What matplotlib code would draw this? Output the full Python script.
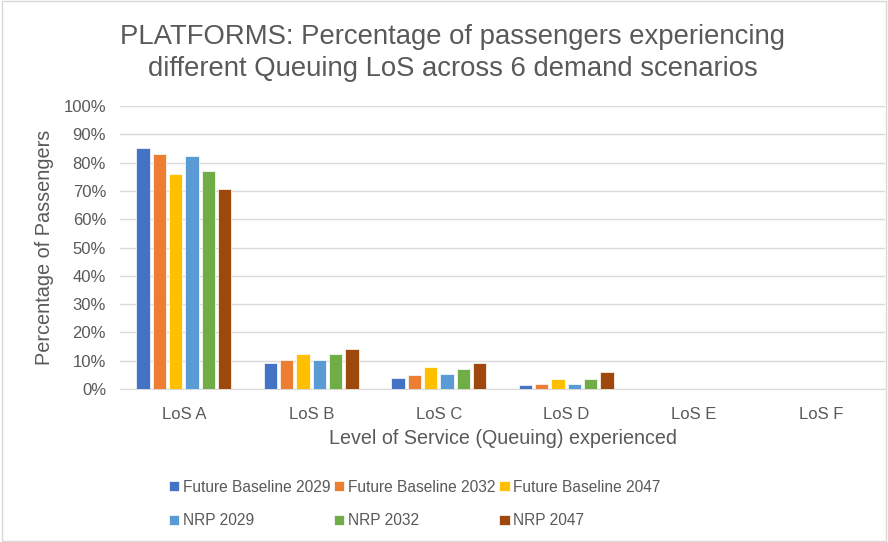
import numpy as np
import matplotlib.pyplot as plt
from matplotlib.ticker import PercentFormatter

plt.rcParams['font.family'] = ['Liberation Sans', 'DejaVu Sans']

categories = ['LoS A', 'LoS B', 'LoS C', 'LoS D', 'LoS E', 'LoS F']
series_names = ['Future Baseline 2029', 'Future Baseline 2032', 'Future Baseline 2047',
                'NRP 2029', 'NRP 2032', 'NRP 2047']
fb_2029 = [85.2, 9.3, 3.9, 1.5, 0, 0]
fb_2032 = [82.9, 10.2, 4.9, 1.9, 0, 0]
fb_2047 = [75.8, 12.4, 7.9, 3.5, 0, 0]
nrp_2029 = [82.5, 10.2, 5.3, 1.9, 0, 0]
nrp_2032 = [77.2, 12.4, 7.0, 3.5, 0, 0]
nrp_2047 = [70.5, 14.2, 9.3, 5.9, 0, 0]
colors = ['#4472C4', '#ED7D31', '#FFC000', '#5B9BD5', '#70AD47', '#9E480E']

values = [fb_2029, fb_2032, fb_2047, nrp_2029, nrp_2032, nrp_2047]
grey = '#595959'

fig = plt.figure(figsize=(8.88, 5.42), dpi=100)
ax = fig.add_axes([120 / 888, 1 - 389 / 542, 765 / 888, 283 / 542])

x = np.arange(len(categories))
bw = 0.128
for i, (vals, name, c) in enumerate(zip(values, series_names, colors)):
    ax.bar(x + (i - 2.5) * bw, vals, width=bw * 0.82, color=c, label=name,
           edgecolor='white', linewidth=0.5, zorder=3)

ax.set_xlim(-0.5, len(categories) - 0.5)
ax.set_ylim(0, 100)
ax.set_yticks(np.arange(0, 101, 10))
ax.yaxis.set_major_formatter(PercentFormatter(decimals=0))
ax.set_xticks(x)
ax.set_xticklabels(categories)
ax.tick_params(axis='both', length=0, colors=grey, labelsize=12)
ax.tick_params(axis='x', pad=13)
ax.tick_params(axis='y', pad=10)
ax.grid(axis='y', color='#D9D9D9', linewidth=1, zorder=0)
for s in ['top', 'right', 'left']:
    ax.spines[s].set_visible(False)
ax.spines['bottom'].set_color('#D9D9D9')

ax.set_ylabel('Percentage of Passengers', color=grey, fontsize=14.3, labelpad=7)
ax.set_xlabel('Level of Service (Queuing) experienced', color=grey, fontsize=14.2, labelpad=5)

fig.text(0.5096, 1 - 53 / 542, 'PLATFORMS: Percentage of passengers experiencing\n'
         'different Queuing LoS across 6 demand scenarios',
         ha='center', va='center', fontsize=19.8, color=grey, linespacing=1.27)

# row-major order for the 3-column legend
handles, labels = ax.get_legend_handles_labels()
order = [0, 3, 1, 4, 2, 5]
fig.legend([handles[k] for k in order], [labels[k] for k in order],
           loc='center', bbox_to_anchor=(0.467, 1 - 504 / 542), ncol=3, frameon=False,
           fontsize=11.2, labelcolor=grey, handlelength=0.65, handleheight=0.65,
           handletextpad=0.25, columnspacing=0.25, labelspacing=1.2)

fig.patches.append(plt.Rectangle((0.002, 0.002), 0.996, 0.996, transform=fig.transFigure,
                                 fill=False, edgecolor='#D9D9D9', linewidth=1))

fig.savefig('out.png', dpi=100)
